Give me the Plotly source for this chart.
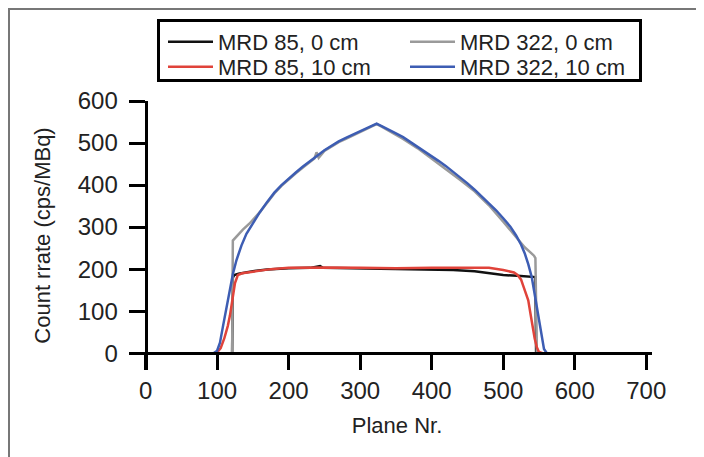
import plotly.graph_objects as go

# ---- data ----
black_x = [0, 50, 100, 121, 122, 124, 130, 140, 150, 170, 200, 230, 240, 244, 248, 280, 320, 360, 400, 430, 460, 480, 500, 520, 542, 545, 546, 600, 645]
black_y = [0, 0, 0, 0, 180, 186, 189, 192, 195, 199, 202, 203, 205, 207, 203, 202, 201, 200, 199, 198, 195, 190, 186, 184, 182, 181, 0, 0, 0]

red_x = [0, 50, 95, 100, 105, 110, 115, 118, 121, 125, 129, 135, 150, 175, 200, 250, 300, 350, 400, 450, 480, 500, 515, 520, 525, 528, 531, 535, 538, 540, 544, 547, 550, 555, 600, 640]
red_y = [0, 0, 0, 2, 12, 35, 65, 90, 125, 167, 186, 190, 194, 200, 203, 204, 203, 202, 203, 204, 203, 198, 192, 186, 175, 160, 147, 126, 95, 71, 35, 14, 3, 0, 0, 0]

gray_x = [0, 50, 100, 121, 122, 125, 130, 136, 145, 160, 170, 180, 190, 200, 210, 220, 230, 236, 239, 242, 250, 260, 270, 280, 290, 300, 310, 323,
          330, 340, 360, 380, 400, 420, 440, 460, 480, 500, 510, 520, 530, 538, 543, 545, 547, 600, 645]
gray_y = [0, 0, 0, 0, 268, 274, 283, 294, 308, 336, 358, 380, 398, 414, 428, 442, 456, 463, 478, 465, 481, 492, 502, 510, 518, 525, 533, 545,
          539, 530, 510, 488, 463, 438, 412, 385, 352, 313, 293, 272, 252, 240, 232, 226, 0, 0, 0]

blue_x = [0, 50, 95, 100, 104, 108, 113, 118, 122, 127, 134, 141, 150, 160, 170, 180, 190, 200, 210, 220, 230, 240, 250, 260, 270, 280, 290, 300, 310, 318, 323,
          330, 340, 350, 360, 370, 380, 390, 400, 410, 420, 430, 440, 450, 460, 470, 480, 490, 500, 510, 518, 525, 530, 535, 540, 544, 548, 551, 554, 557, 561, 600, 650]
blue_y = [0, 0, 0, 6, 25, 62, 105, 150, 188, 221, 256, 284, 310, 336, 360, 382, 400, 416, 430, 444, 458, 470, 483, 494, 504, 512, 520, 527, 535, 542, 546,
          540, 532, 523, 514, 503, 492, 481, 469, 457, 445, 432, 418, 404, 389, 373, 357, 340, 321, 301, 280, 258, 238, 212, 180, 140, 95, 60, 30, 10, 0, 0, 0]

x_ticks = [0, 100, 200, 300, 400, 500, 600, 700]
y_ticks = [0, 100, 200, 300, 400, 500, 600]

FONT = "Liberation Sans, Arial, sans-serif"
TXT = "#222222"

# plot area in page pixels: x 142..652, y 101..370 (page has an 8px body margin)
PX0, PX1, PY0, PY1 = 142, 652, 101, 370
def px(x):
    return (x - PX0) / (PX1 - PX0)
def py(y):
    return (PY1 - y) / (PY1 - PY0)

fig = go.Figure()
fig.add_trace(go.Scatter(x=black_x, y=black_y, mode="lines", name="MRD 85, 0 cm",
                         line=dict(color="#111111", width=2.5), legend="legend"))
fig.add_trace(go.Scatter(x=gray_x, y=gray_y, mode="lines", name="MRD 322, 0 cm",
                         line=dict(color="#9a9a9a", width=2.5), legend="legend2"))
fig.add_trace(go.Scatter(x=red_x, y=red_y, mode="lines", name="MRD 85, 10 cm",
                         line=dict(color="#e0433a", width=2.5), legend="legend3"))
fig.add_trace(go.Scatter(x=blue_x, y=blue_y, mode="lines", name="MRD 322, 10 cm",
                         line=dict(color="#3d5db3", width=2.5), legend="legend4"))

def leg(x, y):
    return dict(x=x, y=y, xanchor="left", yanchor="middle", orientation="v",
                borderwidth=0, bgcolor="rgba(0,0,0,0)", itemwidth=45,
                font=dict(family=FONT, size=22, color=TXT))

col1, col2 = px(163), px(405)
row1, row2 = py(42), py(67)

fig.update_layout(
    width=696, height=449,
    margin=dict(l=PX0 - 8, r=696 - (PX1 - 8), t=PY0 - 8, b=449 - (PY1 - 8)),
    paper_bgcolor="white", plot_bgcolor="white",
    font=dict(family=FONT, size=22, color=TXT),
    showlegend=True,
    legend=leg(col1, row1),
    legend2=leg(col2, row1),
    legend3=leg(col1, row2),
    legend4=leg(col2, row2),
    xaxis=dict(range=[-5, 708], anchor="free", position=40 / 640,
               showline=True, linecolor="black", linewidth=3,
               ticks="outside", ticklen=15, tickwidth=3, tickcolor="black",
               tickvals=x_ticks, ticktext=[str(v) for v in x_ticks],
               showgrid=False, zeroline=False,
               tickfont=dict(family=FONT, size=24, color=TXT),
               title=dict(text="Plane Nr.", standoff=14,
                          font=dict(family=FONT, size=22, color=TXT))),
    yaxis=dict(range=[-40, 600], anchor="free", position=5 / 713,
               showline=True, linecolor="black", linewidth=3,
               ticks="outside", ticklen=16, tickwidth=3, tickcolor="black",
               tickvals=y_ticks, ticktext=[str(v) for v in y_ticks],
               ticklabelstandoff=6,
               showgrid=False, zeroline=False,
               tickfont=dict(family=FONT, size=24, color=TXT),
               title=dict(text="Count rrate (cps/MBq)", standoff=20,
                          font=dict(family=FONT, size=22, color=TXT))),
    shapes=[
        # outer grey frame
        dict(type="rect", xref="paper", yref="paper",
             x0=px(9), x1=px(701), y0=py(470), y1=py(9),
             line=dict(color="#777777", width=2), layer="below"),
        # legend box
        dict(type="rect", xref="paper", yref="paper",
             x0=px(158.5), x1=px(640.5), y0=py(80.5), y1=py(20.5),
             line=dict(color="black", width=3), layer="above"),
    ],
)

fig.write_html("out.html")
